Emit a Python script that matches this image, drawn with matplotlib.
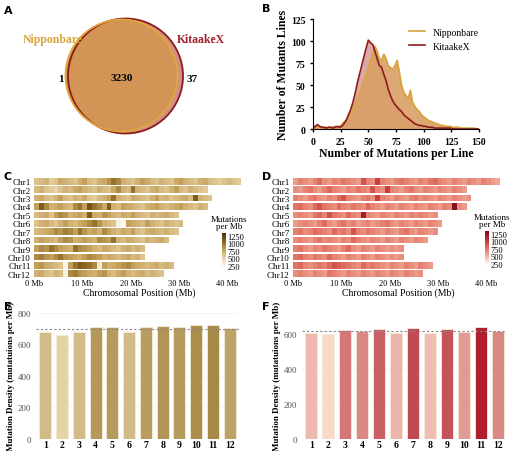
import numpy as np
import matplotlib
matplotlib.use("Agg")
import matplotlib.pyplot as plt
from matplotlib.patches import Circle
from matplotlib.colors import LinearSegmentedColormap

plt.rcParams['font.family'] = ['Liberation Serif', 'DejaVu Serif']

# ---- data ----
venn_labels = ["Nipponbare", "KitaakeX"]
venn_counts = [1, 3230, 37]

hist_N = [1,2,3,2,2,1,2,1,2,2,3,2,3,5,8,10,14,18,22,28,35,40,48,55,62,70,78,86,94,88,80,78,85,80,72,70,68,72,78,65,50,42,38,35,44,30,26,22,20,16,14,12,10,9,8,7,6,5,4,4,3,3,3,2,2,2,2,1,1,1,1,1,1,1,0,0]
hist_K = [1,3,5,3,2,2,1,2,2,1,2,3,2,3,6,10,16,22,30,40,52,62,72,82,92,101,98,96,88,80,72,70,62,55,45,38,32,28,25,22,20,16,14,12,10,8,6,5,4,4,3,3,2,2,2,1,1,1,1,1,1,1,1,0,0,0,0,0,0,0,0,0,0,0,0,0]

chroms = ["Chr1","Chr2","Chr3","Chr4","Chr5","Chr6","Chr7","Chr8","Chr9","Chr10","Chr11","Chr12"]
density_C = [
 [600,650,700,550,600,750,700,650,600,700,800,650,600,700,750,850,1000,900,700,650,600,700,800,750,650,600,700,650,600,750,800,700,650,600,700,750,650,600,550,600,650,600,550],
 [650,700,600,550,500,600,700,650,750,800,700,650,600,700,650,600,750,900,700,650,1000,700,650,600,700,750,650,600,700,800,650,600,700,650,600,550],
 [700,750,650,600,700,800,650,600,700,650,750,600,550,650,700,800,1000,700,650,600,750,700,650,600,700,800,650,700,600,650,700,750,650,1100,700,650,600],
 [800,1100,900,700,750,800,700,650,900,1000,800,1150,1000,900,750,1100,700,650,800,750,700,650,600,700,750,800,700,650,700,750,800,700,650,600,700,650],
 [650,700,750,600,800,900,850,700,750,800,700,1100,750,700,850,800,700,650,750,700,800,700,650,600,700,650,700,750,650,600],
 [600,700,750,650,600,700,800,700,650,750,800,900,1000,850,700,650,600,300,250,800,750,700,650,800,700,650,600,700,650,600,650],
 [650,700,750,800,900,850,950,900,800,1000,850,750,800,700,900,800,700,650,750,700,800,650,600,700,750,700,650,700,650,600],
 [700,800,750,700,650,800,900,850,700,750,800,750,700,900,850,800,1000,700,650,750,700,650,600,700,650,700,750,650],
 [800,900,850,1000,900,800,750,700,1000,900,850,800,700,650,750,700,650,600,700,750,650,700,650],
 [900,950,850,800,900,1000,850,800,750,700,800,900,850,800,700,750,700,650,700,750,650,700,600],
 [800,850,750,700,650,600,250,800,1000,1100,1050,1000,900,350,800,700,750,800,850,900,800,750,700,650,700,750,650,700,650],
 [700,750,650,600,700,650,300,900,950,850,800,750,700,800,850,700,650,750,800,700,650,700,750,650,700,650,600],
]
density_D = [
 [600,700,650,600,700,800,650,600,700,650,750,700,650,600,900,700,650,1000,700,650,600,700,750,700,650,600,700,650,750,800,700,650,600,700,650,600,700,650,600,700,650,600,550],
 [650,600,700,750,650,600,700,800,700,650,600,700,650,750,700,650,900,700,650,1000,700,650,600,700,750,650,600,700,650,600,700,650,600,700,650,600],
 [700,650,600,700,750,650,600,700,650,800,900,700,650,600,700,750,650,1000,700,650,600,700,650,600,700,750,650,700,650,600,700,650,600,700,650,600,650],
 [750,800,700,650,800,900,750,700,650,800,700,650,750,700,650,800,700,650,600,700,650,600,700,650,600,700,650,600,700,650,600,700,650,1300,650,600],
 [650,700,650,600,750,800,700,900,750,700,650,800,700,650,1200,700,650,600,700,650,600,700,650,600,700,650,700,650,600,650],
 [600,650,700,650,600,700,800,650,600,700,750,650,700,600,650,700,600,650,700,750,650,600,700,650,600,700,650,600,700,650,600],
 [700,750,650,700,800,750,700,650,800,700,750,650,900,700,650,750,700,650,600,700,650,600,700,750,650,600,700,650,600,650],
 [650,700,650,600,700,750,650,700,650,600,700,650,800,700,650,600,700,650,600,700,650,600,700,650,600,700,650,600],
 [700,750,650,600,700,650,750,700,650,600,700,800,650,600,700,650,600,700,650,600,650,600,650],
 [750,800,700,650,750,700,650,800,700,650,600,700,650,600,700,650,600,700,650,600,650,600,650],
 [750,800,700,650,700,750,700,800,900,850,800,750,700,650,800,700,750,700,650,600,700,650,600,700,650,600,700,650,600],
 [650,700,650,600,700,650,600,750,700,650,600,700,650,600,700,650,600,700,650,600,700,650,600,700,650,600,650],
]

bar_labels = [str(i) for i in range(1, 13)]
bar_E = [678, 655, 678, 710, 708, 678, 706, 714, 708, 721, 724, 700]
bar_F = [607, 600, 622, 618, 627, 608, 632, 606, 630, 614, 642, 618]
mean_E = 697
mean_F = 620

W, H = 520, 452
fig = plt.figure(figsize=(W/100, H/100), dpi=100)
def ax_px(l, t, r, b):
    return fig.add_axes([l/W, 1-b/H, (r-l)/W, (b-t)/H])

def panel(x, y, s):
    fig.text(x/W, 1-y/H, s, fontsize=8, fontweight='bold', ha='left', va='top', family='DejaVu Sans')

orange = "#D9A33A"
darkred = "#8E1B1B"

# ---- A ----
axA = ax_px(0, 0, 260, 150)
axA.set_xlim(0, 260); axA.set_ylim(150, 0); axA.axis('off')
axA.add_patch(Circle((125.5, 77), 57.5, facecolor="#D09088", edgecolor="none"))
axA.add_patch(Circle((121.5, 76.5), 56, facecolor="#D29555", edgecolor="none"))
axA.add_patch(Circle((125.5, 77), 57.5, facecolor="none", edgecolor=darkred, lw=1.3))
axA.add_patch(Circle((121.5, 76.5), 56, facecolor="none", edgecolor="#E0A83A", lw=1.3))
axA.text(23, 40, venn_labels[0], color=orange, fontsize=8.5, fontweight='bold', ha='left', va='center')
axA.text(177, 40, venn_labels[1], color="#A0212A", fontsize=8.5, fontweight='bold', ha='left', va='center')
axA.text(61, 80, str(venn_counts[0]), fontsize=8, fontweight='bold', ha='center', va='center')
axA.text(122, 79, str(venn_counts[1]), fontsize=8, fontweight='bold', ha='center', va='center')
axA.text(192, 80, str(venn_counts[2]), fontsize=8, fontweight='bold', ha='center', va='center')
panel(4, 6, "A")

# ---- B ----
axB = ax_px(313, 20, 479, 130)
xs = np.arange(len(hist_N)) * 2
xk = np.arange(len(hist_K)) * 2
axB.fill_between(xk, hist_K, color="#D9A0A0", alpha=0.9, lw=0)
axB.fill_between(xs, hist_N, color="#D9A066", alpha=0.9, lw=0)
axB.plot(xs, hist_N, color=orange, lw=1.2, label=venn_labels[0])
axB.plot(xk, hist_K, color=darkred, lw=1.2, label=venn_labels[1])
axB.set_xlim(0, 150); axB.set_ylim(0, 125)
axB.set_xticks([0,25,50,75,100,125,150]); axB.set_yticks([0,25,50,75,100,125])
for sp in ['top','right']: axB.spines[sp].set_visible(False)
axB.tick_params(labelsize=7, length=2, width=1)
for l in axB.get_xticklabels()+axB.get_yticklabels(): l.set_fontweight('bold')
axB.set_xlabel("Number of Mutations per Line", fontsize=8.5, fontweight='bold', labelpad=1)
axB.set_ylabel("Number of Mutants Lines", fontsize=8.5, fontweight='bold', labelpad=1)
axB.legend(frameon=False, fontsize=7, loc='upper right', bbox_to_anchor=(1.05, 1.0), handlelength=1.6)
panel(262, 4, "B")

# ---- C / D ----
cmC = LinearSegmentedColormap.from_list("c", ["#FFFFFF", "#E8D5A8", "#C9A560", "#8A6420", "#4A300A"])
cmD = LinearSegmentedColormap.from_list("d", ["#FFFFFF", "#F4B6A6", "#E0705E", "#C0303A", "#7A0A1E"])

def heat(ax, data, cm):
    for i, vals in enumerate(data):
        edges = np.arange(len(vals)+1)
        ax.pcolormesh(edges, [i-0.4, i+0.4], [vals], cmap=cm, vmin=200, vmax=1350, shading='flat')
    ax.set_ylim(len(data)-0.5, -0.5)
    ax.set_xlim(-0.5, 44)
    ax.set_yticks(range(len(data))); ax.set_yticklabels(chroms, fontsize=6.5)
    ax.set_xticks([0,10,20,30,40]); ax.set_xticklabels(["0 Mb","10 Mb","20 Mb","30 Mb","40 Mb"], fontsize=6)
    ax.tick_params(length=0, pad=1)
    for sp in ax.spines.values(): sp.set_visible(False)
    ax.set_xlabel("Chromosomal Position (Mb)", fontsize=7, labelpad=0)
    return ax

axC = ax_px(32, 178, 246, 279)
heat(axC, density_C, cmC)
axD = ax_px(291, 178, 505, 279)
heat(axD, density_D, cmD)

def cbar(l, t, cm, title_x):
    cax = ax_px(l, t, l+4, t+34)
    grad = np.linspace(200, 1350, 100).reshape(-1, 1)
    cax.imshow(grad, aspect='auto', cmap=cm, origin='lower', extent=[0,1,200,1350])
    cax.set_xticks([]); cax.yaxis.tick_right()
    cax.set_yticks([250,500,750,1000,1250])
    cax.tick_params(labelsize=6, length=0, pad=1)
    for sp in cax.spines.values(): sp.set_visible(False)
    fig.text(title_x/W, 1-(t-3)/H, "Mutations\nper Mb", fontsize=6.5, ha='center', va='bottom', linespacing=0.9)
cbar(222, 234, cmC, 229)
cbar(485, 232, cmD, 492)
panel(4, 172, "C")
panel(262, 172, "D")

# ---- E / F ----
def shade(vals, c_lo, c_hi):
    lo, hi = min(vals), max(vals)
    a, b = np.array(matplotlib.colors.to_rgb(c_lo)), np.array(matplotlib.colors.to_rgb(c_hi))
    return [tuple(a + (b-a)*(v-lo)/(hi-lo)) for v in vals]

def bars(ax, vals, cols, mean, yt, ymax):
    x = np.arange(len(vals))
    ax.bar(x, vals, width=0.72, color=cols, edgecolor="#F5EBD8", lw=0.6)
    ax.axhline(mean, color="#888888", ls=(0,(2,2)), lw=0.8)
    for y in yt: ax.axhline(y, color="#F0F0F0", lw=0.5, zorder=0)
    ax.set_xlim(-0.55, len(vals)-0.45); ax.set_ylim(0, ymax)
    ax.set_xticks(x); ax.set_xticklabels(bar_labels, fontsize=7, fontweight='bold')
    ax.set_yticks(yt); ax.tick_params(axis='y', labelsize=6.5, colors="#555555", length=0)
    ax.tick_params(axis='x', length=0, pad=1)
    for sp in ax.spines.values(): sp.set_visible(False)
    ax.set_ylabel("Mutation Density (mutatuions per Mb)", fontsize=6.5, fontweight='bold', labelpad=2)

axE = ax_px(36, 312, 239, 440)
bars(axE, bar_E, shade(bar_E, "#E5D3A6", "#A88A48"), mean_E, [0,200,400,600,800], 810)
axF = ax_px(302, 312, 507, 440)
bars(axF, bar_F, shade(bar_F, "#FAD8C8", "#B01E2E"), mean_F, [0,200,400,600], 732)
panel(4, 302, "E")
panel(262, 302, "F")

fig.savefig("out.png", dpi=100)
